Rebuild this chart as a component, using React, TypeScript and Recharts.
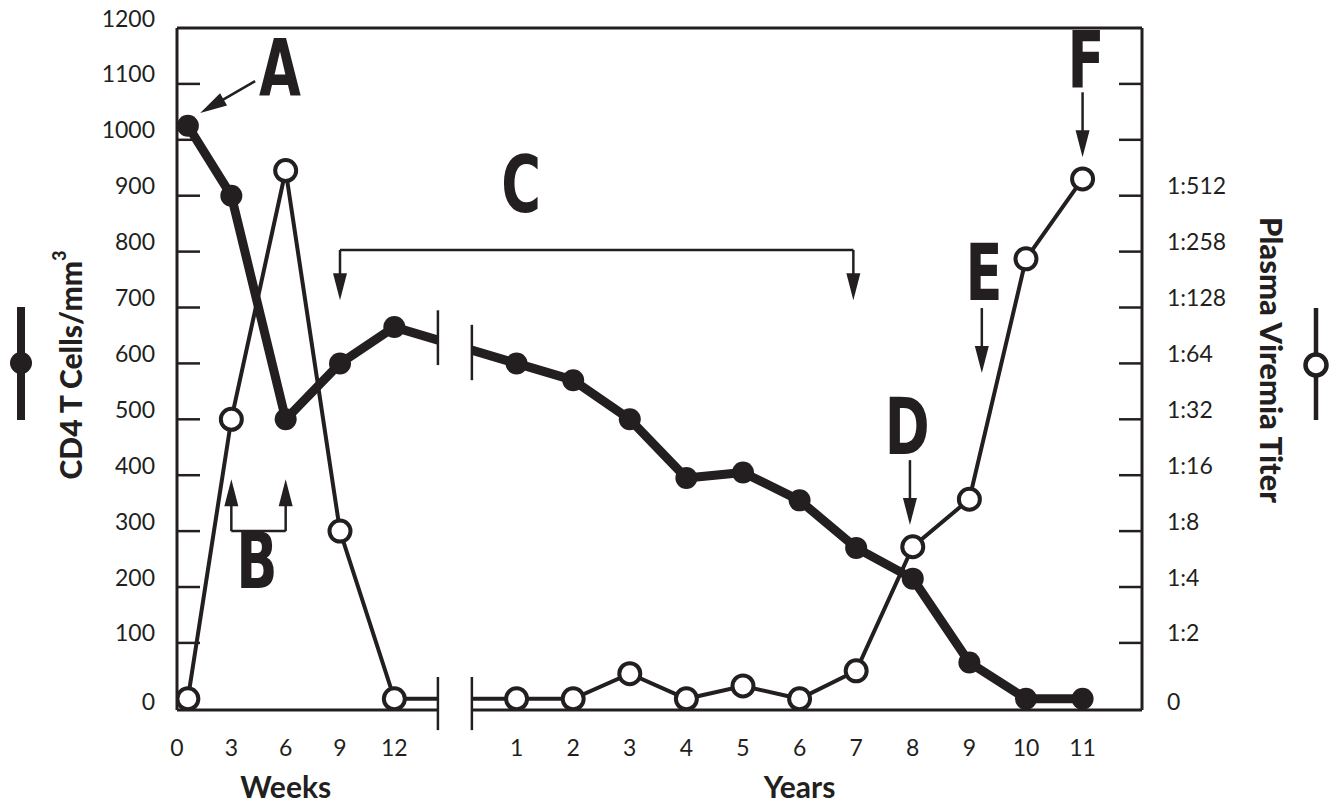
import { LineChart, Line, XAxis, YAxis, ReferenceLine, ReferenceArea, ReferenceDot, Label } from "recharts";

const INK = "#231f20";
const TICK_FONT = "Lato, 'Open Sans', sans-serif";
const TITLE_FONT = "Lato, 'Open Sans', sans-serif";
const LETTER_FONT = "'Liberation Sans Narrow', 'DejaVu Sans Condensed', 'Liberation Sans', sans-serif";

// sampling times
const WEEKS = [0.6, 3, 6, 9, 12];
const YEARS = [1, 2, 3, 4, 5, 6, 7, 8, 9, 10, 11];

// CD4 T cells / mm3
const CD4_WEEKS = [1025, 900, 500, 600, 665];
const CD4_YEARS = [600, 570, 500, 395, 405, 355, 270, 215, 65, 0, 0];

// plasma viremia, in doubling steps of the titer (1 = 1:2, 2 = 1:4 ...)
const VIREMIA_WEEKS = [0, 5, 9.45, 3, 0];
const VIREMIA_YEARS = [0, 0, 0.45, 0, 0.23, 0, 0.5, 2.72, 3.57, 7.87, 9.3];

const WEEK_TICKS = [0, 3, 6, 9, 12];
const YEAR_TICKS = [1, 2, 3, 4, 5, 6, 7, 8, 9, 10, 11];
const CD4_TICKS = [0, 100, 200, 300, 400, 500, 600, 700, 800, 900, 1000, 1100, 1200];
const TITER_TICKS = [0, 1, 2, 3, 4, 5, 6, 7, 8, 9, 10, 11];
const TITER_LABELS = ["0", "1:2", "1:4", "1:8", "1:16", "1:32", "1:64", "1:128", "1:258", "1:512"];

// x is a shared position axis: weeks on the left of the break, years on the right
const weekPos = (w: number) => w * 0.32;
const yearPos = (y: number) => y + 5;
const X_MAX = 17.05;
const BREAK_L = 4.61;
const BREAK_R = 5.21;

const data = [
  ...WEEKS.map((w, i) => ({ pos: weekPos(w), cd4: CD4_WEEKS[i], vir: VIREMIA_WEEKS[i] })),
  ...YEARS.map((y, i) => ({ pos: yearPos(y), cd4: CD4_YEARS[i], vir: VIREMIA_YEARS[i] })),
];

const X_TICKS = [...WEEK_TICKS.map(weekPos), ...YEAR_TICKS.map(yearPos)];
const X_LABELS = [...WEEK_TICKS, ...YEAR_TICKS].map(String);

const LETTERS = [
  { text: "A", x: 1.82, y: 1080 },
  { text: "B", x: 1.41, y: 198 },
  { text: "C", x: 6.08, y: 871 },
  { text: "D", x: 12.9, y: 438 },
  { text: "E", x: 14.26, y: 713 },
  { text: "F", x: 16.06, y: 1094 },
];

// [x1, y1, x2, y2, arrowhead at the end?]
const POINTERS: [number, number, number, number, boolean][] = [
  [1.38, 1105, 0.41, 1048, true],
  [weekPos(3), 300, weekPos(3), 393, true],
  [weekPos(6), 300, weekPos(6), 393, true],
  [weekPos(3), 300, weekPos(6), 300, false],
  [weekPos(9), 803, weekPos(9), 713, true],
  [11.95, 803, 11.95, 713, true],
  [weekPos(9), 803, 11.95, 803, false],
  [12.95, 427, 12.95, 311, true],
  [14.22, 699, 14.22, 583, true],
  [16.0, 1085, 16.0, 969, true],
];

const BREAK_MARKS: [number, number, number][] = [
  [BREAK_L, 695, 597],
  [BREAK_R, 669, 570],
  [BREAK_L, 39, -56],
  [BREAK_R, 39, -56],
];

const arrowShape = (head: boolean) => (p: any) => {
  const { x1, y1, x2, y2 } = p;
  if (!head) return <line x1={x1} y1={y1} x2={x2} y2={y2} stroke={INK} strokeWidth={2.5} />;
  const len = Math.hypot(x2 - x1, y2 - y1) || 1;
  const ux = (x2 - x1) / len;
  const uy = (y2 - y1) / len;
  const L = 27;
  const W = 7;
  const bx = x2 - ux * L;
  const by = y2 - uy * L;
  return (
    <g>
      <line x1={x1} y1={y1} x2={bx + ux * 2} y2={by + uy * 2} stroke={INK} strokeWidth={2.5} />
      <polygon points={`${x2},${y2} ${bx - uy * W},${by + ux * W} ${bx + uy * W},${by - ux * W}`} fill={INK} />
    </g>
  );
};

const LeftTick = (p: any) => {
  const { x, y, payload } = p;
  const v = payload.value;
  return (
    <g>
      {v > 0 && v < 1200 && <line x1={x} x2={x + 23} y1={y} y2={y} stroke={INK} strokeWidth={2.5} />}
      <text x={x - 22} y={y + (v === 0 ? 11.5 : -1.5)} textAnchor="end" fontFamily={TICK_FONT} fontSize={23} fill={INK}>
        {v}
      </text>
    </g>
  );
};

const RightTick = (p: any) => {
  const { x, y, payload } = p;
  const v = payload.value;
  const label = TITER_LABELS[v];
  return (
    <g>
      {v > 0 && <line x1={x - 23} x2={x} y1={y} y2={y} stroke={INK} strokeWidth={2.5} />}
      {label && (
        <text x={x + 25} y={y + (v === 0 ? 11.5 : -1.5)} textAnchor="start" fontFamily={TICK_FONT} fontSize={23} fill={INK}>
          {label}
        </text>
      )}
    </g>
  );
};

const BottomTick = (p: any) => {
  const { x, y, payload } = p;
  const i = X_TICKS.findIndex((t) => Math.abs(t - payload.value) < 1e-6);
  return (
    <text x={x} y={y + 46} textAnchor="middle" fontFamily={TICK_FONT} fontSize={23} fill={INK}>
      {X_LABELS[i]}
    </text>
  );
};

const XTitles = (p: any) => {
  const vb = p.viewBox;
  const unit = vb.width / X_MAX;
  return (
    <g fontFamily={TITLE_FONT} fontWeight="bold" fontSize={30} fill={INK} textAnchor="middle">
      <text x={vb.x + weekPos(6) * unit} y={vb.y + 88}>Weeks</text>
      <text x={vb.x + yearPos(6) * unit} y={vb.y + 88}>Years</text>
    </g>
  );
};

const LeftTitle = (p: any) => {
  const vb = p.viewBox;
  const cx = vb.x + 70;
  const cy = vb.y + vb.height / 2 - 4;
  const lx = vb.x + 21;
  return (
    <g>
      <line x1={lx} x2={lx} y1={cy - 58} y2={cy + 55} stroke={INK} strokeWidth={8} />
      <circle cx={lx} cy={cy - 2} r={11} fill={INK} />
      <text
        x={cx}
        y={cy}
        transform={`rotate(-90, ${cx}, ${cy})`}
        textAnchor="middle"
        dominantBaseline="central"
        fontFamily={TITLE_FONT}
        fontWeight={900}
        fontSize={30}
        fill={INK}
      >
        CD4 T Cells/mm
        <tspan baselineShift="super" fontSize={18}>3</tspan>
      </text>
    </g>
  );
};

const RightTitle = (p: any) => {
  const vb = p.viewBox;
  const cx = vb.x + 130;
  const cy = vb.y + vb.height / 2 - 9;
  const lx = vb.x + 174;
  return (
    <g>
      <line x1={lx} x2={lx} y1={cy - 52} y2={cy + 60} stroke={INK} strokeWidth={4.5} />
      <circle cx={lx} cy={cy + 5} r={10.5} fill="#fff" stroke={INK} strokeWidth={4.5} />
      <text
        x={cx}
        y={cy}
        transform={`rotate(90, ${cx}, ${cy})`}
        textAnchor="middle"
        dominantBaseline="central"
        fontFamily={TITLE_FONT}
        fontWeight={900}
        fontSize={31}
        fill={INK}
      >
        Plasma Viremia Titer
      </text>
    </g>
  );
};

export default function App() {
  return (
    <div style={{ position: "absolute", left: 0, top: 0, background: "#fff" }}>
      <LineChart width={1341} height={804} data={data} margin={{ top: 28, right: 0, bottom: 0, left: 0 }}>
        <XAxis
          dataKey="pos"
          type="number"
          domain={[0, X_MAX]}
          ticks={X_TICKS}
          allowDataOverflow
          axisLine={false}
          tickLine={false}
          tickSize={0}
          tickMargin={0}
          height={94}
          interval={0}
          tick={<BottomTick />}
          label={<Label content={XTitles} />}
        />
        <YAxis
          yAxisId="left"
          domain={[-20, 1200]}
          ticks={CD4_TICKS}
          allowDataOverflow
          width={177}
          axisLine={{ stroke: INK, strokeWidth: 3 }}
          tickLine={false}
          tickSize={0}
          tickMargin={0}
          interval={0}
          tick={<LeftTick />}
          label={<Label content={LeftTitle} />}
        />
        <YAxis
          yAxisId="right"
          orientation="right"
          domain={[-0.2, 12]}
          ticks={TITER_TICKS}
          allowDataOverflow
          width={199}
          axisLine={{ stroke: INK, strokeWidth: 3 }}
          tickLine={false}
          tickSize={0}
          tickMargin={0}
          interval={0}
          tick={<RightTick />}
          label={<Label content={RightTitle} />}
        />
        <ReferenceLine yAxisId="left" y={1200} stroke={INK} strokeWidth={3} />
        <ReferenceLine
          yAxisId="left"
          segment={[{ x: 0, y: -20 }, { x: BREAK_L, y: -20 }]}
          stroke={INK}
          strokeWidth={3}
        />
        <ReferenceLine
          yAxisId="left"
          segment={[{ x: BREAK_R, y: -20 }, { x: X_MAX, y: -20 }]}
          stroke={INK}
          strokeWidth={3}
        />
        <Line
          yAxisId="left"
          dataKey="cd4"
          type="linear"
          stroke={INK}
          strokeWidth={9}
          strokeLinejoin="round"
          dot={{ r: 11, fill: INK, stroke: INK, strokeWidth: 0 }}
          activeDot={false}
          isAnimationActive={false}
        />
        <Line
          yAxisId="right"
          dataKey="vir"
          type="linear"
          stroke={INK}
          strokeWidth={4}
          dot={{ r: 10.5, fill: "#fff", stroke: INK, strokeWidth: 4 }}
          activeDot={false}
          isAnimationActive={false}
        />
        <ReferenceArea
          yAxisId="left"
          x1={BREAK_L}
          x2={BREAK_R}
          y1={-10}
          y2={1150}
          fill="#fff"
          fillOpacity={1}
          stroke="none"
          ifOverflow="visible"
          zIndex={450}
        />
        {BREAK_MARKS.map(([x, ya, yb], i) => (
          <ReferenceLine
            key={`brk${i}`}
            yAxisId="left"
            segment={[{ x, y: ya }, { x, y: yb }]}
            stroke={INK}
            strokeWidth={2.5}
            ifOverflow="visible"
            zIndex={460}
          />
        ))}
        {POINTERS.map(([x1, y1, x2, y2, head], i) => (
          <ReferenceLine
            key={`ptr${i}`}
            yAxisId="left"
            segment={[{ x: x1, y: y1 }, { x: x2, y: y2 }]}
            ifOverflow="visible"
            shape={arrowShape(head)}
            zIndex={460}
          />
        ))}
        {LETTERS.map((l) => (
          <ReferenceDot
            key={l.text}
            yAxisId="left"
            x={l.x}
            y={l.y}
            r={0}
            ifOverflow="visible"
            zIndex={460}
            shape={(p: any) => (
              <text
                transform={`translate(${p.cx}, ${p.cy}) scale(0.86, 1.11)`}
                textAnchor="middle"
                fontFamily={LETTER_FONT}
                fontWeight="bold"
                fontSize={70}
                fill={INK}
              >
                {l.text}
              </text>
            )}
          />
        ))}
      </LineChart>
    </div>
  );
}
